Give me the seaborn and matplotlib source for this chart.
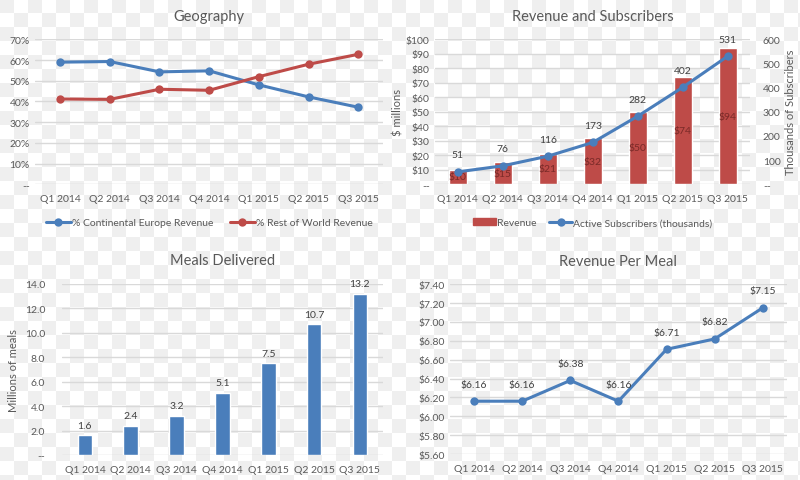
import numpy as np
import pandas as pd
import matplotlib
matplotlib.use('Agg')
import matplotlib.pyplot as plt
import seaborn as sns
from matplotlib.lines import Line2D
from matplotlib.patches import Patch

#######################
#
# DATA
#
#######################
QUARTERS = ['Q1 2014', 'Q2 2014', 'Q3 2014', 'Q4 2014', 'Q1 2015', 'Q2 2015', 'Q3 2015']

europe_pct = [59.0, 59.3, 54.3, 54.8, 48.0, 42.2, 37.2]
row_pct = [41.2, 41.0, 45.9, 45.4, 52.0, 58.0, 62.8]

revenue_musd = [10, 15, 21, 32, 50, 74, 94]
subscribers_k = [51, 76, 116, 173, 282, 402, 531]

meals_m = [1.6, 2.4, 3.2, 5.1, 7.5, 10.7, 13.2]

rev_per_meal = [6.16, 6.16, 6.38, 6.16, 6.71, 6.82, 7.15]

geo_ticks = ['--', '10%', '20%', '30%', '40%', '50%', '60%', '70%']
rev_ticks = ['--'] + ['$%d' % v for v in range(10, 101, 10)]
sub_ticks = ['--', '100', '200', '300', '400', '500', '600']
meal_ticks = ['--', '2.0', '4.0', '6.0', '8.0', '10.0', '12.0', '14.0']

#######################
#
# STYLE
#
#######################
BLUE = '#4A7EBB'
RED = '#BE4B48'
DARK_RED = '#7A2A28'
TEXT = '#595959'
LABEL = '#404040'
GRID = '#D9D9D9'

sns.set_theme(style='white')
plt.rcParams['font.family'] = ['Lato', 'DejaVu Sans']
plt.rcParams['text.color'] = TEXT
plt.rcParams['axes.labelcolor'] = TEXT
plt.rcParams['xtick.color'] = TEXT
plt.rcParams['ytick.color'] = TEXT

df = pd.DataFrame({
    'quarter': QUARTERS,
    'europe': europe_pct,
    'row': row_pct,
    'revenue': revenue_musd,
    'subs': subscribers_k,
    'meals': meals_m,
    'rpm': rev_per_meal,
})

fig = plt.figure(figsize=(8, 4.81), dpi=100)

# checkerboard background like the reference image
sq = 14
yy, xx = np.mgrid[0:481, 0:800]
board = ((xx // sq + yy // sq) % 2).astype(float)
bg = np.where(board[..., None] > 0, np.array([1.0, 1.0, 1.0]), np.array([0.94, 0.94, 0.94]))
fig.figimage(bg, xo=0, yo=0, zorder=-10)


def style_axes(ax, xpad=5):
    for s in ax.spines.values():
        s.set_visible(False)
    ax.patch.set_alpha(0)
    ax.yaxis.grid(True, color=GRID, linewidth=1)
    ax.set_axisbelow(True)
    ax.tick_params(axis='both', length=0, labelsize=7.5, pad=4)
    ax.tick_params(axis='x', pad=xpad)
    ax.set_xlabel('')
    ax.set_ylabel('')
    ax.set_xlim(-0.5, 6.5)


def title(ax, txt):
    ax.set_title(txt, fontsize=10.5, color=TEXT, pad=14)


# ---------------- Geography ----------------
ax1 = fig.add_axes([0.044, 0.615, 0.435, 0.301])
sns.lineplot(data=df, x='quarter', y='europe', ax=ax1, color=BLUE, marker='o',
             linewidth=2.2, markersize=6, markeredgewidth=0, sort=False)
sns.lineplot(data=df, x='quarter', y='row', ax=ax1, color=RED, marker='o',
             linewidth=2.2, markersize=6, markeredgewidth=0, sort=False)
style_axes(ax1, xpad=7)
ax1.set_ylim(0, 70)
ax1.set_yticks(range(0, 71, 10))
ax1.set_yticklabels(geo_ticks)
title(ax1, 'Geography')
h1 = [Line2D([], [], color=BLUE, marker='o', lw=2.2, ms=6, mew=0),
      Line2D([], [], color=RED, marker='o', lw=2.2, ms=6, mew=0)]
ax1.legend(h1, ['% Continental Europe Revenue', '% Rest of World Revenue'],
           loc='upper center', bbox_to_anchor=(0.5, -0.17), ncol=2, frameon=False,
           fontsize=7.5, handlelength=2.4, handletextpad=0.1, columnspacing=1.6,
           labelcolor=TEXT)

# ---------------- Revenue and Subscribers ----------------
ax2 = fig.add_axes([0.544, 0.615, 0.394, 0.301])
sns.barplot(data=df, x='quarter', y='revenue', ax=ax2, color=RED, saturation=1,
            width=0.4)
style_axes(ax2, xpad=7)
ax2.set_ylim(0, 100)
ax2.set_yticks(range(0, 101, 10))
ax2.set_yticklabels(rev_ticks)
ax2.set_ylabel('$ millions', fontsize=8, labelpad=2)
for i, v in enumerate(revenue_musd):
    ax2.text(i, v / 2, '$%d' % v, ha='center', va='center', fontsize=7.5, color=DARK_RED)
title(ax2, 'Revenue and Subscribers')

ax2b = ax2.twinx()
sns.lineplot(data=df, x='quarter', y='subs', ax=ax2b, color=BLUE, marker='o',
             linewidth=2.2, markersize=6, markeredgewidth=0, sort=False)
for s in ax2b.spines.values():
    s.set_visible(False)
ax2b.set_ylim(0, 600)
ax2b.set_yticks(range(0, 601, 100))
ax2b.set_yticklabels(sub_ticks)
ax2b.tick_params(axis='both', length=0, labelsize=7.5, pad=9)
ax2b.set_ylabel('Thousands of Subscribers', fontsize=8, labelpad=3)
ax2b.set_xlim(-0.5, 6.5)
for i, v in enumerate(subscribers_k):
    ax2b.annotate(str(v), (i, v), xytext=(0, 9), textcoords='offset points',
                  ha='center', va='bottom', fontsize=7.5, color=LABEL)
h2 = [Patch(color=RED),
      Line2D([], [], color=BLUE, marker='o', lw=2.2, ms=6, mew=0)]
ax2.legend(h2, ['Revenue', 'Active Subscribers (thousands)'],
           loc='upper center', bbox_to_anchor=(0.5, -0.17), ncol=2, frameon=False,
           fontsize=7.5, handlelength=2.2, handleheight=0.6, handletextpad=0.1,
           columnspacing=1.2, labelcolor=TEXT)

# ---------------- Meals Delivered ----------------
ax3 = fig.add_axes([0.0775, 0.052, 0.401, 0.356])
sns.barplot(data=df, x='quarter', y='meals', ax=ax3, color=BLUE, saturation=1,
            width=0.32)
style_axes(ax3, xpad=7)
ax3.set_ylim(0, 14)
ax3.set_yticks(range(0, 15, 2))
ax3.set_yticklabels(meal_ticks)
ax3.tick_params(axis='y', pad=12)
ax3.set_ylabel('Millions of meals', fontsize=8, labelpad=4)
for i, v in enumerate(meals_m):
    ax3.annotate('%.1f' % v, (i, v), xytext=(0, 4), textcoords='offset points',
                 ha='center', va='bottom', fontsize=7.5, color=LABEL)
title(ax3, 'Meals Delivered')

# ---------------- Revenue Per Meal ----------------
ax4 = fig.add_axes([0.5625, 0.054, 0.421, 0.353])
sns.lineplot(data=df, x='quarter', y='rpm', ax=ax4, color=BLUE, marker='o',
             linewidth=2.2, markersize=6, markeredgewidth=0, sort=False)
style_axes(ax4, xpad=7)
ax4.set_ylim(5.6, 7.4)
ax4.set_yticks(np.arange(5.6, 7.41, 0.2))
ax4.set_yticklabels(['$%.2f' % v for v in np.arange(5.6, 7.41, 0.2)])
for i, v in enumerate(rev_per_meal):
    ax4.annotate('$%.2f' % v, (i, v), xytext=(0, 9), textcoords='offset points',
                 ha='center', va='bottom', fontsize=7.5, color=LABEL)
title(ax4, 'Revenue Per Meal')

fig.savefig('out.png', dpi=100)
